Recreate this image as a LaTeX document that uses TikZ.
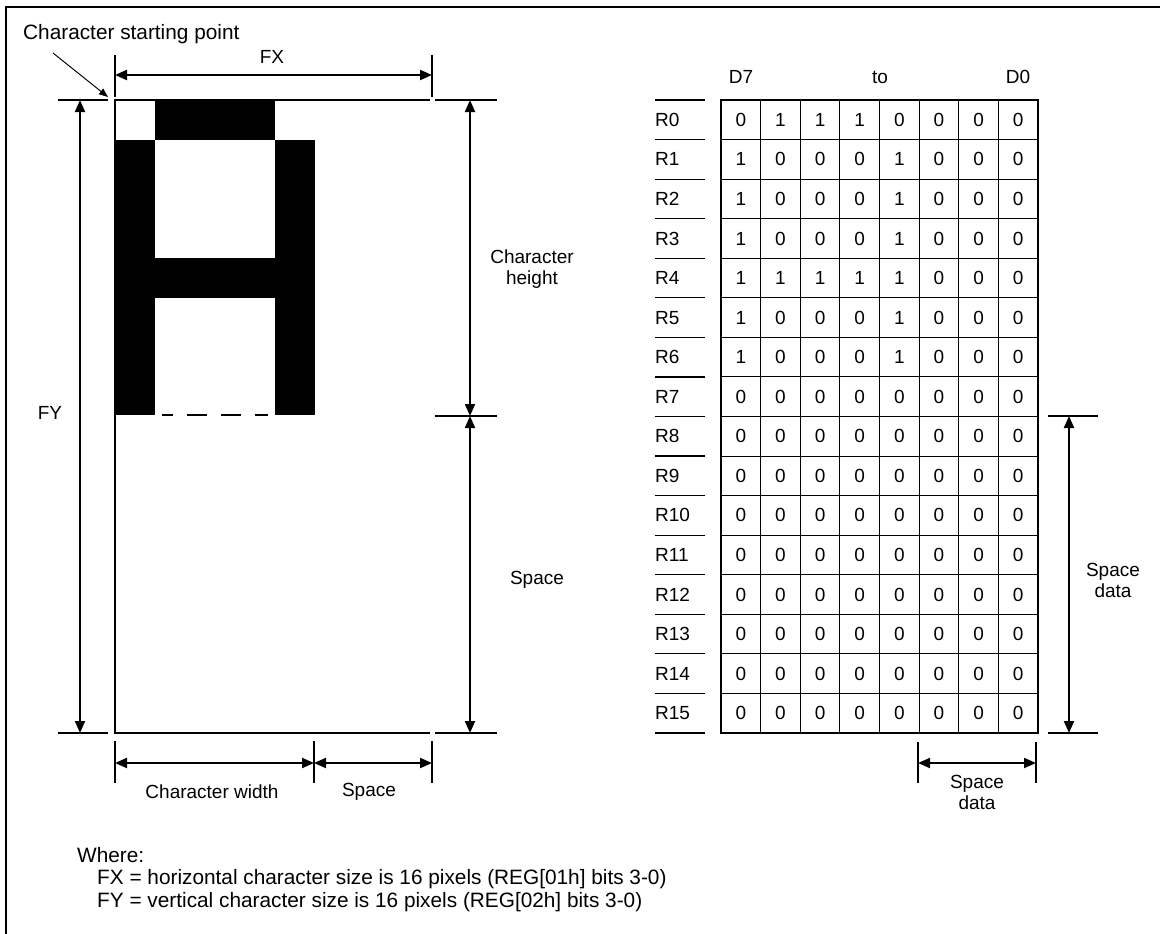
\documentclass[tikz,border=0pt]{standalone}
\usepackage{fontspec}
\setmainfont{Liberation Sans}
\usetikzlibrary{arrows.meta,positioning}

\begin{document}
\begin{tikzpicture}[x=1pt, y=-1pt,
    dim/.style = {line width=2pt,
                {Triangle[length=12pt,width=10pt]}-{Triangle[length=12pt,width=10pt]}},
    ext/.style = {line width=1.2pt},
    lbl/.style = {font=\fontsize{19}{21}\selectfont, inner sep=0pt, align=center},
    txt/.style = {font=\fontsize{20.8}{24}\selectfont, inner sep=0pt, anchor=base west}
                    ]
    \useasboundingbox (0,0) rectangle (1160,934);
    \def\gL{115}   % glyph box
    \def\gR{432}
    \def\gT{100}
    \def\gB{733}
    \def\gH{415}   % bottom of character height
    \def\tabL{721} % data table
    \def\tabR{1038}
    \def\colw{39.625}
    \def\rowh{39.5625}
    % frame
    \draw[line width=2pt] (6,934) -- (6,7) -- (1160,7);
    % glyph pixels
    \fill (155,\gT) rectangle (275,139.6);
    \fill (\gL,139.6) rectangle (155,\gH);
    \fill (275,139.6) rectangle (315,\gH);
    \fill (155,258.2) rectangle (275,297.8);
    \draw[line width=1.2pt, dash pattern=on 20pt off 14pt, dash phase=9pt] (162,\gH) -- (268,\gH);
    \draw[ext] (430,\gT) -- (\gL,\gT) -- (\gL,\gB) -- (430,\gB);
    % starting point
    \node[txt] (start) at (23,40) {Character starting point};
    \coordinate (corner) at (108,97);
    \draw[line width=1pt, -{Triangle[length=9pt,width=7pt]}] (53,53) -- (corner);
    % FX
    \draw[ext] (\gL,55) -- (\gL,97);
    \draw[ext] (\gR,55) -- (\gR,97);
    \coordinate (fxL) at (\gL,75);
    \coordinate (fxR) at (\gR,75);
    \draw[dim] (fxL) -- (fxR);
    \node[lbl] (fx) at (272,57) {FX};
    % FY
    \draw[ext] (58,\gT) -- (108,\gT);
    \draw[ext] (58,\gB) -- (108,\gB);
    \coordinate (fyT) at (80,\gT);
    \coordinate (fyB) at (80,\gB);
    \draw[dim] (fyT) -- (fyB);
    \node[lbl] (fy) at (50,413) {FY};
    % character height / space
    \draw[ext] (435,\gT) -- (497,\gT);
    \draw[ext] (435,416) -- (497,416);
    \draw[ext] (435,\gB) -- (497,\gB);
    \coordinate (chT) at (470,\gT);
    \coordinate (chM) at (470,416);
    \coordinate (chB) at (470,\gB);
    \draw[dim] (chT) -- (chM);
    \draw[dim] (chM) -- (chB);
    \node[lbl] (chgt) at (532,269) {Character\\height};
    \node[lbl] (spc) at (537,580) {Space};
    % character width / space
    \draw[ext] (\gL,741) -- (\gL,783);
    \draw[ext] (314,741) -- (314,783);
    \draw[ext] (\gR,741) -- (\gR,783);
    \coordinate (cwL) at (\gL,763);
    \coordinate (cwM) at (314,763);
    \coordinate (cwR) at (\gR,763);
    \draw[dim] (cwL) -- (cwM);
    \draw[dim] (cwM) -- (cwR);
    \node[lbl] (cwid) at (212,792) {Character width};
    \node[lbl] (cspc) at (369,792) {Space};
    % data table
    \node[lbl] (d7) at (741,77) {D7};
    \node[lbl] (to) at (880,77) {to};
    \node[lbl] (d0) at (1018,77) {D0};
    \foreach \bits [count=\r from 0] in {{0,1,1,1,0,0,0,0},{1,0,0,0,1,0,0,0},
        {1,0,0,0,1,0,0,0},{1,0,0,0,1,0,0,0},{1,1,1,1,1,0,0,0},{1,0,0,0,1,0,0,0},
        {1,0,0,0,1,0,0,0},{0,0,0,0,0,0,0,0},{0,0,0,0,0,0,0,0},{0,0,0,0,0,0,0,0},
        {0,0,0,0,0,0,0,0},{0,0,0,0,0,0,0,0},{0,0,0,0,0,0,0,0},{0,0,0,0,0,0,0,0},
        {0,0,0,0,0,0,0,0},{0,0,0,0,0,0,0,0}} {
        \node[lbl, anchor=west] (r\r) at (655,{\gT+\rowh*(\r+0.5)}) {R\r};
        \foreach \b [count=\c from 0] in \bits
            \node[lbl] (b\r-\c) at ({\tabL+\colw*(\c+0.5)},{\gT+\rowh*(\r+0.5)}) {\b};
    }
    \foreach \i in {0,...,16}
        \draw[ext] (655,{\gT+\rowh*\i}) -- (705,{\gT+\rowh*\i});
    \foreach \i in {1,...,15}
        \draw[line width=1pt] (\tabL,{\gT+\rowh*\i}) -- (\tabR,{\gT+\rowh*\i});
    \foreach \i in {1,...,7}
        \draw[line width=1pt] ({\tabL+\colw*\i},\gT) -- ({\tabL+\colw*\i},\gB);
    \draw[line width=2.4pt] (\tabL,\gT) rectangle (\tabR,\gB);
    % space data, right
    \draw[ext] (1048,416) -- (1098,416);
    \draw[ext] (1048,\gB) -- (1098,\gB);
    \coordinate (sdT) at (1069,416);
    \coordinate (sdB) at (1069,\gB);
    \draw[dim] (sdT) -- (sdB);
    \node[lbl] (sdr) at (1113,580) {Space\\data};
    % space data, bottom
    \draw[ext] (918,742) -- (918,783);
    \draw[ext] (1036,742) -- (1036,783);
    \coordinate (sdL) at (918,763);
    \coordinate (sdR) at (1036,763);
    \draw[dim] (sdL) -- (sdR);
    \node[lbl] (sdb) at (977,792) {Space\\data};
    % notes
    \node[txt] (where) at (77,862) {Where:};
    \node[txt] (fxdef) at (97,884) {FX = horizontal character size is 16 pixels (REG[01h] bits 3-0)};
    \node[txt] (fydef) at (97,907) {FY = vertical character size is 16 pixels (REG[02h] bits 3-0)};
\end{tikzpicture}
\end{document}
